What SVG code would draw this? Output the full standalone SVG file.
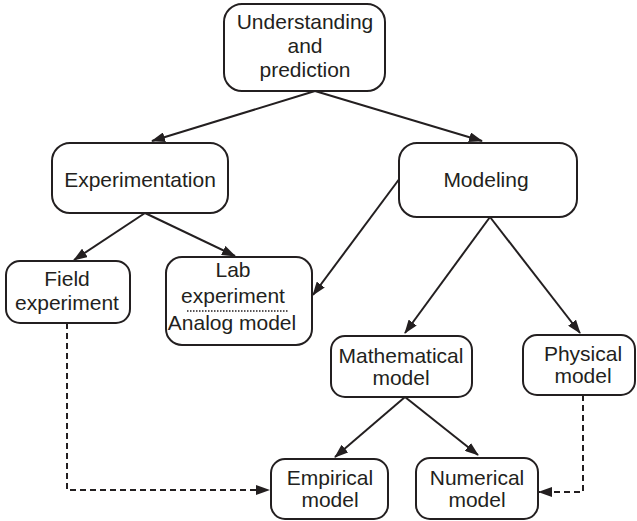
<svg xmlns="http://www.w3.org/2000/svg" width="637" height="521" viewBox="0 0 637 521">
<style>
.box{fill:#fff;stroke:#231f20;stroke-width:2}
.t{font-family:"Liberation Sans",Arial,Helvetica,sans-serif;font-size:21px;fill:#231f20;text-anchor:middle}
.c{fill:none;stroke:#231f20;stroke-width:2}
.d{fill:none;stroke:#231f20;stroke-width:2;stroke-dasharray:6 4}
</style>
<defs>
<marker id="ah" viewBox="0 0 14 10" refX="13" refY="5" markerWidth="14" markerHeight="10" markerUnits="userSpaceOnUse" orient="auto">
<path d="M0,0 L14,5 L0,10 z" fill="#231f20"/>
</marker>
</defs>
<rect width="637" height="521" fill="#fff"/>
<g id="connectors">
<line class="c" x1="315" y1="91" x2="152" y2="141" marker-end="url(#ah)"/>
<line class="c" x1="315" y1="91" x2="482" y2="141" marker-end="url(#ah)"/>
<line class="c" x1="145" y1="213" x2="74" y2="260" marker-end="url(#ah)"/>
<line class="c" x1="145" y1="213" x2="235" y2="256" marker-end="url(#ah)"/>
<line class="c" x1="400" y1="178" x2="313" y2="295" marker-end="url(#ah)"/>
<line class="c" x1="490" y1="217" x2="405" y2="333" marker-end="url(#ah)"/>
<line class="c" x1="490" y1="217" x2="580" y2="333" marker-end="url(#ah)"/>
<line class="c" x1="405" y1="397" x2="335" y2="457" marker-end="url(#ah)"/>
<line class="c" x1="405" y1="397" x2="478" y2="455" marker-end="url(#ah)"/>
<polyline class="d" points="67,323 67,490 269,490" marker-end="url(#ah)"/>
<polyline class="d" points="583,395 583,492 539,492" marker-end="url(#ah)"/>
</g>
<g id="understanding">
<rect class="box" x="224" y="4" width="161" height="87" rx="18"/>
<text class="t" x="305" y="29">Understanding</text>
<text class="t" x="305" y="53">and</text>
<text class="t" x="305" y="77">prediction</text>
</g>
<g id="experimentation">
<rect class="box" x="52" y="143" width="176" height="70" rx="18"/>
<text class="t" x="140" y="187">Experimentation</text>
</g>
<g id="modeling">
<rect class="box" x="399" y="143" width="178" height="74" rx="18"/>
<text class="t" x="486" y="187">Modeling</text>
</g>
<g id="field">
<rect class="box" x="6" y="261" width="124" height="62" rx="14"/>
<text class="t" x="67" y="286">Field</text>
<text class="t" x="67" y="310">experiment</text>
</g>
<g id="lab">
<rect class="box" x="166" y="257" width="146" height="88" rx="16"/>
<text class="t" x="233" y="277">Lab</text>
<text class="t" x="233" y="303">experiment</text>
<line x1="187" y1="311" x2="289" y2="311" stroke="#231f20" stroke-width="1.5" stroke-dasharray="1.5 1.5"/>
<text class="t" x="232" y="330">Analog model</text>
</g>
<g id="mathematical">
<rect class="box" x="331" y="336" width="141" height="61" rx="14"/>
<text class="t" x="401" y="363">Mathematical</text>
<text class="t" x="401" y="385">model</text>
</g>
<g id="physical">
<rect class="box" x="523" y="335" width="112" height="60" rx="14"/>
<text class="t" x="583" y="361">Physical</text>
<text class="t" x="583" y="383">model</text>
</g>
<g id="empirical">
<rect class="box" x="271" y="459" width="117" height="60" rx="14"/>
<text class="t" x="330" y="485">Empirical</text>
<text class="t" x="330" y="507">model</text>
</g>
<g id="numerical">
<rect class="box" x="416" y="458" width="122" height="61" rx="14"/>
<text class="t" x="477" y="485">Numerical</text>
<text class="t" x="477" y="507">model</text>
</g>
</svg>
